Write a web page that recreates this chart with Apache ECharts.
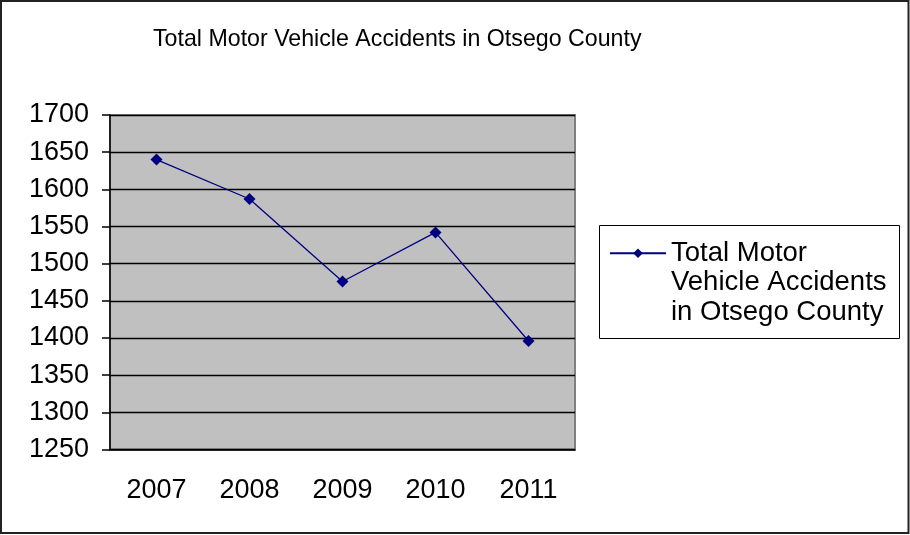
<!DOCTYPE html>
<html>
<head>
<meta charset="utf-8">
<script src="https://cdn.jsdelivr.net/npm/echarts@6/dist/echarts.min.js"></script>
<style>
  html, body { margin: 0; padding: 0; background: #fff; }
  #myChart { width: 910px; height: 535px; }
</style>
</head>
<body>
<div id="myChart"></div>
<script>
// chart data
var years = ["2007", "2008", "2009", "2010", "2011"];
var accidents = [1640, 1587, 1476, 1542, 1396];
var seriesName = "Total Motor Vehicle Accidents in Otsego County";
var legendLines = ["Total Motor", "Vehicle Accidents", "in Otsego County"];
var yMin = 1250, yMax = 1700, yStep = 50;

var font = "'Liberation Sans', Arial, sans-serif";
var myChart = echarts.init(document.getElementById("myChart"));

myChart.setOption({
  backgroundColor: "#fff",
  animation: false,
  title: {
    text: "Total Motor Vehicle Accidents in Otsego County",
    left: 148,
    top: 23,
    textStyle: { fontFamily: font, fontSize: 23.2, fontWeight: "normal", color: "#000" }
  },
  grid: {
    left: 110,
    top: 115,
    right: 335,
    bottom: 85.5,
    show: true,
    backgroundColor: "#C0C0C0",
    borderColor: "#808080",
    borderWidth: 2
  },
  legend: {
    left: 609,
    top: 179.5,
    padding: 0,
    orient: "vertical",
    itemWidth: 56,
    itemHeight: 12,
    formatter: function () {
      // two blank lines on top so the first text line sits on the icon
      return "{s| }\n{s| }\n" + legendLines.map(function (l) { return "{a|" + l + "}"; }).join("\n");
    },
    textStyle: {
      color: "#000",
      rich: {
        s: { fontFamily: font, fontSize: 27.5, lineHeight: 29.5, height: 29.5 },
        a: { fontFamily: font, fontSize: 27.5, lineHeight: 29.5, height: 29.5, color: "#000" }
      }
    }
  },
  xAxis: {
    type: "category",
    data: years,
    boundaryGap: true,
    axisLine: { lineStyle: { color: "#000", width: 1.5 } },
    axisTick: { length: 8, lineStyle: { color: "#000", width: 1.5 } },
    axisLabel: { margin: 28, fontFamily: font, fontSize: 27, color: "#000" },
    splitLine: { show: false }
  },
  yAxis: {
    type: "value",
    min: yMin,
    max: yMax,
    interval: yStep,
    axisLine: { show: true, lineStyle: { color: "#000", width: 1.5 } },
    axisTick: { show: true, length: 8, lineStyle: { color: "#000", width: 1.5 } },
    axisLabel: {
      margin: 21, fontFamily: font, fontSize: 27, color: "#000",
      formatter: function (v) { return String(v); }
    },
    splitLine: { lineStyle: { color: "#000", width: 1.4 } }
  },
  series: [{
    name: seriesName,
    type: "line",
    data: accidents,
    symbol: "diamond",
    symbolSize: 12,
    lineStyle: { color: "#000080", width: 1.3 },
    itemStyle: { color: "#000080" }
  }],
  graphic: [
    {
      type: "rect",
      shape: { x: 599.5, y: 225.5, width: 300, height: 113 },
      style: { fill: null, stroke: "#000", lineWidth: 1 },
      z: 10
    },
    {
      type: "rect",
      shape: { x: 1, y: 1, width: 907.5, height: 532 },
      style: { fill: null, stroke: "#222", lineWidth: 2 },
      z: 10
    }
  ]
});
</script>
</body>
</html>
